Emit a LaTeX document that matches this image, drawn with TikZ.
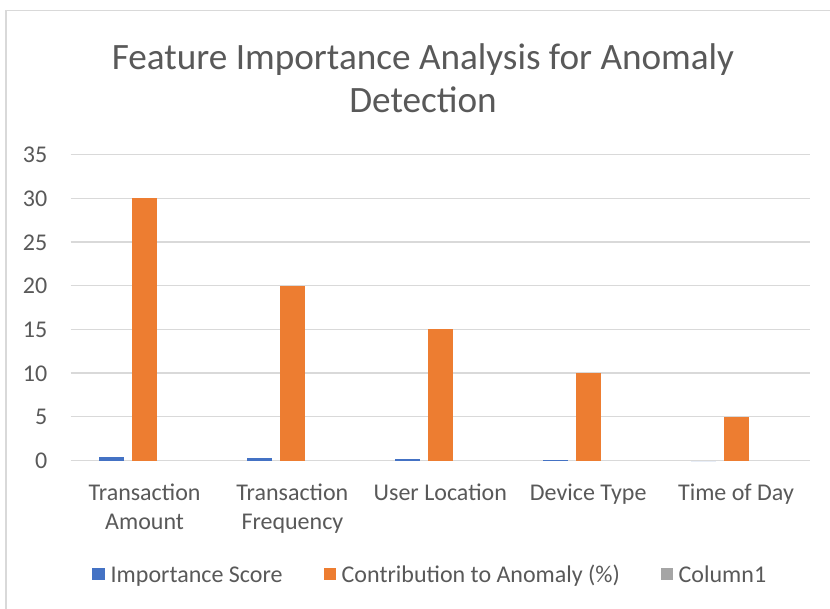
\documentclass[tikz,border=0pt]{standalone}
\usepackage{fontspec}
\setmainfont{Carlito}
\definecolor{txt}{HTML}{595959}
\definecolor{grid}{HTML}{D9D9D9}
\definecolor{sblue}{HTML}{4472C4}
\definecolor{sorange}{HTML}{ED7D31}
\definecolor{sgray}{HTML}{A5A5A5}
\tikzset{
  lbl/.style={text=txt, font=\fontsize{24}{29}\selectfont, inner sep=0pt},
  ttl/.style={text=txt, font=\fontsize{37.2}{43}\selectfont, inner sep=0pt, anchor=base},
  gridline/.style={draw=grid, line width=1.3pt},
  legsq/.style={minimum size=12.5pt, inner sep=0pt, draw=none},
}
\begin{document}
\begin{tikzpicture}[x=1pt,y=-1pt]
\useasboundingbox (0,0) rectangle (830,608);
\clip (0,0) rectangle (830,608);
\fill[white] (0,0) rectangle (830,608);
\draw[grid, line width=1.5pt] (6,10.5) rectangle (900,700);
% title
\node[ttl] (title1) at (423,69.5) {Feature Importance Analysis for Anomaly};
\node[ttl] (title2) at (423,112.5) {Detection};
% gridlines and y labels
\foreach \v [count=\k from 0] in {0,5,10,15,20,25,30,35} {
  \pgfmathsetmacro{\yy}{460.5-\k*43.7}
  \draw[gridline] (70.7,\yy) -- (810,\yy);
  \node[lbl, anchor=base east] (y\k) at (47.5,\yy+8) {\v};
}
% bars
\def\unit{8.74}
\foreach \b/\o [count=\i from 0] in {0.4/30,0.25/20,0.15/15,0.1/10,0.0/5} {
  \pgfmathsetmacro{\c}{70.7+(\i+0.5)*147.86}
  \fill[sblue] (\c-45.5,460.5) rectangle (\c-20.5,460.5-\b*\unit);
  \fill[sorange] (\c-12.5,460.5) rectangle (\c+12.5,460.5-\o*\unit);
}
% x labels
\node[lbl, anchor=base] (x1a) at (144.6,500) {Transaction};
\node[lbl, anchor=base] (x1b) at (144.6,529) {Amount};
\node[lbl, anchor=base] (x2a) at (292.4,500) {Transaction};
\node[lbl, anchor=base] (x2b) at (292.4,529) {Frequency};
\node[lbl, anchor=base] (x3) at (440.3,500) {User Location};
\node[lbl, anchor=base] (x4) at (588.2,500) {Device Type};
\node[lbl, anchor=base] (x5) at (736,500) {Time of Day};
% legend
\node[legsq, fill=sblue] (l1) at (98.5,574) {};
\node[lbl, anchor=base west] (t1) at (110.5,582.5) {Importance Score};
\node[legsq, fill=sorange] (l2) at (330,574) {};
\node[lbl, anchor=base west] (t2) at (341.5,582.5) {Contribution to Anomaly (\%)};
\node[legsq, fill=sgray] (l3) at (667,574) {};
\node[lbl, anchor=base west] (t3) at (678.5,582.5) {Column1};
\end{tikzpicture}
\end{document}
